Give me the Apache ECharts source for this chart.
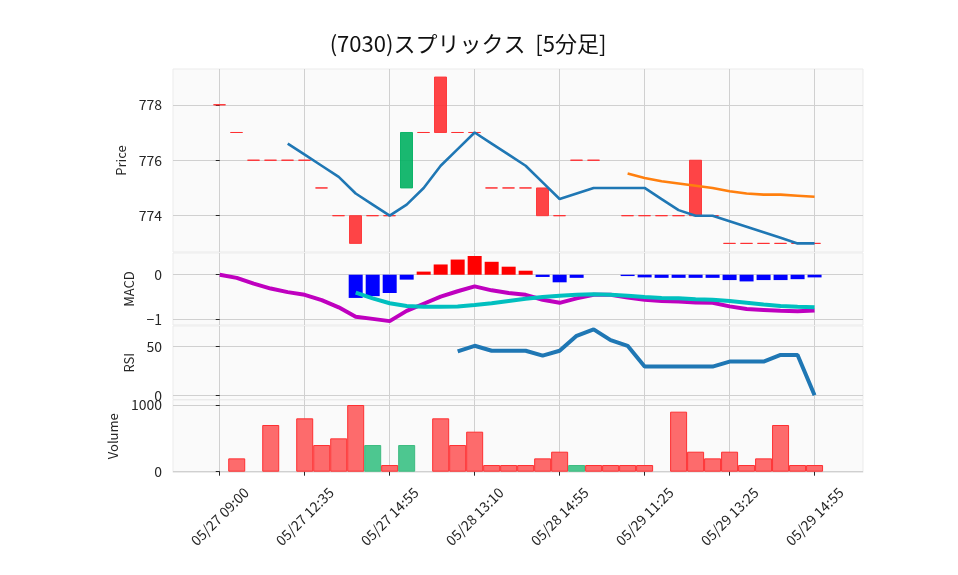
<!DOCTYPE html>
<html>
<head>
<meta charset="utf-8">
<script src="https://cdn.jsdelivr.net/npm/echarts@6/dist/echarts.min.js"></script>
<style>
html, body { margin: 0; padding: 0; background: #fff; }
#chart { width: 958px; height: 575px; }
</style>
</head>
<body>
<div id="chart"></div>
<script>
// 5分足 (05/27 - 05/29)
const times = [
    '05/27 09:00', '05/27 09:05', '05/27 09:10', '05/27 11:25', '05/27 12:30',
    '05/27 12:35', '05/27 13:40', '05/27 14:05', '05/27 14:20', '05/27 14:30',
    '05/27 14:55', '05/28 09:00', '05/28 09:05', '05/28 09:35', '05/28 10:40',
    '05/28 13:10', '05/28 13:45', '05/28 14:05', '05/28 14:20', '05/28 14:45',
    '05/28 14:55', '05/29 09:00', '05/29 09:10', '05/29 09:45', '05/29 10:30',
    '05/29 11:25', '05/29 11:30', '05/29 12:30', '05/29 12:45', '05/29 13:00',
    '05/29 13:25', '05/29 13:50', '05/29 14:10', '05/29 14:30', '05/29 14:45',
    '05/29 14:55',
];
const tickIndex = [0, 5, 10, 15, 20, 25, 30, 35];

const opens  = [778, 777, 776, 776, 776, 776, 775, 774, 774, 774, 774, 775, 777, 779, 777, 777, 775, 775,
                775, 775, 774, 776, 776, 775, 774, 774, 774, 774, 776, 774, 773, 773, 773, 773, 773, 773];
const closes = [778, 777, 776, 776, 776, 776, 775, 774, 773, 774, 774, 777, 777, 777, 777, 777, 775, 775,
                775, 774, 774, 776, 776, 775, 774, 774, 774, 774, 774, 774, 773, 773, 773, 773, 773, 773];
const volumes = [0, 200, 0, 700, 0, 800, 400, 500, 1000, 400, 100, 400, 0, 800, 400, 600, 100, 100,
                 100, 200, 300, 100, 100, 100, 100, 100, 0, 900, 300, 200, 300, 100, 200, 700, 100, 100];

const ma5 = [null, null, null, null, 776.6, 776.2, 775.8, 775.4, 774.8, 774.4, 774.0, 774.4, 775.0, 775.8,
             776.4, 777.0, 776.6, 776.2, 775.8, 775.2, 774.6, 774.8, 775.0, 775.0, 775.0, 775.0, 774.6,
             774.2, 774.0, 774.0, 773.8, 773.6, 773.4, 773.2, 773.0, 773.0];
const ma25 = [null, null, null, null, null, null, null, null, null, null, null, null, null, null, null, null,
              null, null, null, null, null, null, null, null, 775.52, 775.36, 775.24, 775.16, 775.08, 775.0,
              774.88, 774.8, 774.76, 774.76, 774.72, 774.68];

const macd = [0.0, -0.07, -0.20, -0.31, -0.39, -0.45, -0.57, -0.73, -0.94, -0.99, -1.04, -0.81, -0.65,
              -0.49, -0.37, -0.26, -0.35, -0.41, -0.45, -0.56, -0.63, -0.53, -0.45, -0.45, -0.51, -0.56,
              -0.59, -0.60, -0.62, -0.63, -0.71, -0.77, -0.79, -0.81, -0.82, -0.80];
const signal = [null, null, null, null, null, null, null, null, -0.40, -0.53, -0.64, -0.70, -0.72, -0.72,
                -0.71, -0.68, -0.64, -0.59, -0.54, -0.50, -0.47, -0.45, -0.44, -0.45, -0.47, -0.50, -0.52,
                -0.53, -0.55, -0.56, -0.59, -0.63, -0.67, -0.70, -0.72, -0.73];
const hist = [null, null, null, null, null, null, null, null, -0.52, -0.48, -0.41, -0.11, 0.07, 0.23, 0.34,
              0.42, 0.29, 0.18, 0.09, -0.05, -0.17, -0.07, 0, 0, -0.03, -0.06, -0.07, -0.07, -0.07, -0.07,
              -0.12, -0.15, -0.12, -0.12, -0.10, -0.06];

const rsi = [null, null, null, null, null, null, null, null, null, null, null, null, null, null, 44.9, 50.7,
             45.6, 45.6, 45.6, 40.6, 45.6, 60.9, 67.6, 56.5, 50.7, 29.4, 29.4, 29.4, 29.4, 29.4, 34.5, 34.5,
             34.5, 41.3, 41.3, 0];

const FONT = '"Noto Sans CJK JP", "Noto Sans", sans-serif';

const pairs = (arr) => arr
    .map((v, i) => [i, v])
    .filter((p) => p[1] !== null);

const candleData = opens.map((o, i) => [
    i, o, closes[i], Math.min(o, closes[i]), Math.max(o, closes[i]),
]);

const volumeData = [];
volumes.forEach((v, i) => {
    if (!v) {
        return;
    }
    const up = i > 0 && closes[i] > closes[i - 1];
    volumeData.push({
        value: [i, v],
        itemStyle: {
            color: up ? '#4dc790' : '#fd6b6c',
            borderColor: up ? '#3dbb80' : '#fe3032',
        },
    });
});

const histData = pairs(hist).map((p) => ({
    value: p,
    itemStyle: { color: p[1] >= 0 ? '#ff0000' : '#0000ff' },
}));

const panels = [
    { top: 69, height: 183, min: 772.69, max: 779.29, ticks: [774, 776, 778], name: 'Price', gap: 45 },
    { top: 253, height: 72, min: -1.127, max: 0.487, ticks: [-1, 0], name: 'MACD', gap: 37 },
    { top: 326, height: 73.5, min: -4.4, max: 71, ticks: [0, 50], name: 'RSI', gap: 37 },
    { top: 400, height: 72.5, min: -12, max: 1075, ticks: [0, 1000], name: 'Volume', gap: 52 },
];

const axisText = { color: '#262626', fontSize: 14, fontFamily: FONT };

const option = {
    animation: false,
    backgroundColor: '#ffffff',
    graphic: [{
        type: 'text',
        x: 468,
        y: 44,
        style: {
            text: '(7030)スプリックス  [5分足]',
            fill: '#111',
            font: '22px ' + FONT,
            align: 'center',
            verticalAlign: 'middle',
        },
    }],
    grid: panels.map((p) => ({
        left: 173,
        right: 95,
        top: p.top,
        height: p.height,
        show: true,
        backgroundColor: '#fafafa',
        borderColor: '#ebebeb',
        borderWidth: 1,
    })),
    xAxis: panels.map((p, k) => ({
        type: 'value',
        gridIndex: k,
        min: -2.75,
        max: 37.85,
        axisLine: { show: false },
        axisTick: {
            show: k === 3,
            customValues: tickIndex,
            length: 4,
            lineStyle: { color: '#262626' },
        },
        axisLabel: {
            show: k === 3,
            customValues: tickIndex,
            rotate: 45,
            margin: 44,
            align: 'center',
            verticalAlign: 'middle',
            ...axisText,
            formatter: (v) => times[v] || '',
        },
        splitLine: { show: true, lineStyle: { color: '#d0d0d0', width: 1 } },
    })),
    yAxis: panels.map((p, k) => ({
        type: 'value',
        gridIndex: k,
        min: p.min,
        max: p.max,
        name: p.name,
        nameLocation: 'middle',
        nameRotate: 90,
        nameGap: p.gap,
        nameTextStyle: { color: '#262626', fontSize: 13, fontFamily: FONT },
        axisLine: { show: false },
        axisTick: {
            show: true,
            customValues: p.ticks,
            length: 4,
            lineStyle: { color: '#262626' },
        },
        axisLabel: {
            customValues: p.ticks,
            margin: 11,
            ...axisText,
            formatter: (v) => (v < 0 ? '\u2212' + Math.abs(v) : String(v)),
        },
        splitLine: { show: true, lineStyle: { color: '#d0d0d0', width: 1 } },
    })),
    series: [
        {
            type: 'candlestick',
            xAxisIndex: 0,
            yAxisIndex: 0,
            barWidth: 12.5,
            encode: { x: 0, y: [1, 2, 3, 4] },
            itemStyle: {
                color: 'rgba(0,176,96,0.9)',
                color0: 'rgba(254,48,50,0.9)',
                borderColor: 'rgba(0,176,96,0.9)',
                borderColor0: 'rgba(254,48,50,0.9)',
                borderColorDoji: '#fe3032',
                borderWidth: 1,
            },
            data: candleData,
        },
        {
            type: 'line',
            xAxisIndex: 0,
            yAxisIndex: 0,
            symbol: 'none',
            lineStyle: { color: '#1f77b4', width: 2.6 },
            data: pairs(ma5),
        },
        {
            type: 'line',
            xAxisIndex: 0,
            yAxisIndex: 0,
            symbol: 'none',
            lineStyle: { color: '#ff7f0e', width: 2.6 },
            data: pairs(ma25),
        },
        {
            type: 'bar',
            xAxisIndex: 1,
            yAxisIndex: 1,
            barWidth: 14,
            data: histData,
        },
        {
            type: 'line',
            xAxisIndex: 1,
            yAxisIndex: 1,
            symbol: 'none',
            lineStyle: { color: '#bf00bf', width: 4 },
            data: pairs(macd),
        },
        {
            type: 'line',
            xAxisIndex: 1,
            yAxisIndex: 1,
            symbol: 'none',
            lineStyle: { color: '#00bfbf', width: 4 },
            data: pairs(signal),
        },
        {
            type: 'line',
            xAxisIndex: 2,
            yAxisIndex: 2,
            symbol: 'none',
            lineStyle: { color: '#1f77b4', width: 4 },
            data: pairs(rsi),
        },
        {
            type: 'bar',
            xAxisIndex: 3,
            yAxisIndex: 3,
            barWidth: 17,
            itemStyle: { borderWidth: 1 },
            data: volumeData,
        },
    ],
};

const chart = echarts.init(document.getElementById('chart'));
chart.setOption(option);
window.addEventListener('resize', chart.resize);
</script>
</body>
</html>
